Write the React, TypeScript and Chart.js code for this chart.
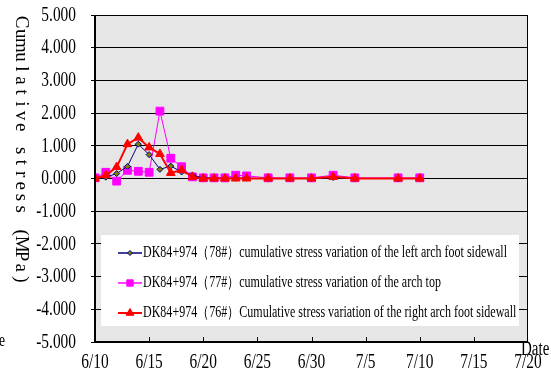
import React, { useEffect, useRef } from "react";
import { Chart, registerables } from "chart.js";
Chart.register(...registerables);

const dates = ["6/10", "6/11", "6/12", "6/13", "6/14", "6/15", "6/16", "6/17", "6/18", "6/19", "6/20", "6/21", "6/22", "6/23", "6/24", "6/26", "6/28", "6/30", "7/2", "7/4", "7/8", "7/10"];
const leftFoot = [0, 0.04, 0.15, 0.37, 1.05, 0.73, 0.28, 0.38, 0.2, 0.1, 0.02, 0.01, 0.01, 0.01, 0.01, 0.0, 0.0, 0.0, 0.03, 0.0, 0.0, 0.0];
const archTop = [0.02, 0.19, -0.08, 0.25, 0.22, 0.19, 2.06, 0.62, 0.36, 0.05, 0.02, 0.02, 0.02, 0.1, 0.08, 0.02, 0.02, 0.02, 0.1, 0.02, 0.02, 0.02];
const rightFoot = [0, 0.1, 0.35, 1.05, 1.25, 0.95, 0.75, 0.17, 0.26, 0.05, 0.0, 0.0, 0.0, 0.0, 0.0, 0.0, 0.0, 0.0, 0.05, 0.0, 0.0, 0.0];
const xTickLabels = ["6/10", "6/15", "6/20", "6/25", "6/30", "7/5", "7/10", "7/15", "7/20"];
const yTickValues = [5, 4, 3, 2, 1, 0, -1, -2, -3, -4, -5];
const seriesNames = [
  "DK84+974（78#）cumulative stress variation of the left arch foot sidewall",
  "DK84+974（77#）cumulative stress variation of the arch top",
  "DK84+974（76#）Cumulative stress variation of the right arch foot sidewall",
];
const yTitle = "Cumulative stress（MPa）";
const xTitle = "Date";

const SERIF = "'Liberation Serif', 'Times New Roman', serif";
const NARROW = 0.7;

function toDay(s: string) {
  const [m, d] = s.split("/").map(Number);
  return m === 6 ? d - 10 : d + 20;
}

function narrowText(ctx: CanvasRenderingContext2D, text: string, x: number, y: number, size: number, align: "left" | "right" | "center", sx: number) {
  ctx.save();
  ctx.font = `${size}px ${SERIF}`;
  ctx.textBaseline = "middle";
  ctx.textAlign = align;
  ctx.translate(x, y);
  ctx.scale(sx, 1);
  ctx.fillStyle = "#000";
  ctx.fillText(text, 0, 0);
  ctx.restore();
}

function drawMarker(ctx: CanvasRenderingContext2D, kind: string, x: number, y: number, fill: string, stroke: string, r: number) {
  ctx.beginPath();
  if (kind === "rect") {
    const s = Math.SQRT1_2 * r;
    ctx.rect(x - s, y - s, 2 * s, 2 * s);
  } else if (kind === "triangle") {
    ctx.moveTo(x, y - r);
    ctx.lineTo(x + r * 0.866, y + r * 0.5);
    ctx.lineTo(x - r * 0.866, y + r * 0.5);
    ctx.closePath();
  } else {
    ctx.moveTo(x, y - r);
    ctx.lineTo(x + r, y);
    ctx.lineTo(x, y + r);
    ctx.lineTo(x - r, y);
    ctx.closePath();
  }
  ctx.fillStyle = fill;
  ctx.fill();
  ctx.strokeStyle = stroke;
  ctx.lineWidth = 1;
  ctx.stroke();
}

const decorPlugin = {
  id: "decor",
  beforeDraw(chart: any) {
    const { ctx, chartArea: a } = chart;
    ctx.save();
    ctx.fillStyle = "#fff";
    ctx.fillRect(0, 0, chart.width, chart.height);
    ctx.fillStyle = "#e6e6e6";
    ctx.fillRect(a.left, a.top, a.right - a.left, a.bottom - a.top);
    ctx.restore();
  },
  afterDatasetsDraw(chart: any) {
    const { ctx, chartArea: a } = chart;
    const xs = chart.scales.x;
    const ys = chart.scales.y;
    ctx.save();
    // border
    ctx.strokeStyle = "#000";
    ctx.lineWidth = 1;
    ctx.beginPath();
    ctx.moveTo(a.left, a.top + 0.5);
    ctx.lineTo(a.right, a.top + 0.5);
    ctx.moveTo(a.right - 0.5, a.top);
    ctx.lineTo(a.right - 0.5, a.bottom);
    ctx.stroke();
    ctx.lineWidth = 2;
    ctx.beginPath();
    ctx.moveTo(a.left, a.top);
    ctx.lineTo(a.left, a.bottom);
    ctx.lineTo(a.right, a.bottom);
    ctx.stroke();
    // inner x ticks
    ctx.lineWidth = 1;
    ctx.beginPath();
    for (let i = 1; i < xTickLabels.length - 1; i++) {
      const px = Math.round(xs.getPixelForValue(i * 5)) + 0.5;
      ctx.moveTo(px, a.bottom);
      ctx.lineTo(px, a.bottom - 5);
    }
    ctx.stroke();

    // tick labels (narrow, tall)
    yTickValues.forEach((v) => {
      narrowText(ctx, v.toFixed(3), 76, ys.getPixelForValue(v), 22, "right", NARROW);
    });
    xTickLabels.forEach((t, i) => {
      narrowText(ctx, t, xs.getPixelForValue(i * 5), 362, 22, "center", NARROW);
    });

    // legend box
    const bx = a.left + 6, by = 235, bw = 418, bh = 91;
    ctx.fillStyle = "#fff";
    ctx.fillRect(bx, by, bw, bh);
    const rows = [253, 283, 313];
    const colors = ["#000080", "#ff00ff", "#ff0000"];
    const kinds = ["diamond", "rect", "triangle"];
    const fills = ["#808000", "#ff00ff", "#ff0000"];
    const radii = [2.5, 4.5, 4.5];
    ctx.font = `16px ${SERIF}`;
    const natural = ctx.measureText(seriesNames[0]).width;
    const sx = 364 / natural;
    rows.forEach((ry, i) => {
      ctx.strokeStyle = colors[i];
      ctx.lineWidth = i === 2 ? 2 : 1.5;
      ctx.beginPath();
      ctx.moveTo(118, ry);
      ctx.lineTo(142, ry);
      ctx.stroke();
      drawMarker(ctx, kinds[i], 130, ry, fills[i], i === 0 ? "#000080" : colors[i], radii[i]);
      narrowText(ctx, seriesNames[i], 143, ry, 16, "left", sx);
    });

    // y title, rotated clockwise, half-width / full-width cells
    ctx.fillStyle = "#000";
    ctx.font = `19px ${SERIF}`;
    ctx.save();
    ctx.translate(21, 0);
    ctx.rotate(Math.PI / 2);
    ctx.textAlign = "center";
    ctx.textBaseline = "middle";
    let cell = 0;
    const step = 11.7;
    for (const ch of yTitle) {
      if (ch === "（") {
        ctx.fillText("(", 22 + (cell + 1) * step, 0);
        cell += 2;
      } else if (ch === "）") {
        ctx.fillText(")", 22 + cell * step, 0);
        cell += 2;
      } else {
        ctx.fillText(ch, 22 + cell * step, 0);
        cell += 1;
      }
    }
    ctx.restore();

    // x title and stray fragment at the left edge
    narrowText(ctx, xTitle, 521, 350, 20, "left", 0.75);
    narrowText(ctx, "e", -1, 341, 18, "left", 0.75);
    ctx.restore();
  },
};

export default function App() {
  const ref = useRef<HTMLCanvasElement>(null);
  useEffect(() => {
    document.body.style.margin = "0";
    const days = dates.map(toDay);
    const mk = (vals: number[]) => vals.map((v, i) => ({ x: days[i], y: v }));
    const chart = new Chart(ref.current!, {
      type: "line",
      data: {
        datasets: [
          {
            label: seriesNames[2],
            data: mk(rightFoot),
            borderColor: "#ff0000",
            backgroundColor: "#ff0000",
            borderWidth: 2,
            pointStyle: "triangle",
            pointRadius: 5,
            pointBorderWidth: 1,
            pointBorderColor: "#ff0000",
          },
          {
            label: seriesNames[0],
            data: mk(leftFoot),
            borderColor: "#000080",
            backgroundColor: "#808000",
            borderWidth: 1,
            pointStyle: "rectRot",
            pointRadius: 3,
            pointBorderWidth: 1,
            pointBorderColor: "#000080",
          },
          {
            label: seriesNames[1],
            data: mk(archTop),
            borderColor: "#ff00ff",
            backgroundColor: "#ff00ff",
            borderWidth: 1,
            pointStyle: "rect",
            pointRadius: 5.5,
            pointBorderWidth: 1,
            pointBorderColor: "#ff00ff",
          },
        ],
      },
      options: {
        animation: false,
        responsive: false,
        layout: { padding: { top: 15, right: 23, left: 0, bottom: 0 } },
        plugins: { legend: { display: false }, tooltip: { enabled: false } },
        scales: {
          x: {
            type: "linear",
            min: 0,
            max: 40,
            afterBuildTicks: (s: any) => {
              s.ticks = xTickLabels.map((_, i) => ({ value: i * 5 }));
            },
            ticks: { display: false },
            grid: { display: false, drawTicks: false },
            border: { display: false },
            afterFit: (s: any) => {
              s.height = 37;
            },
          },
          y: {
            min: -5,
            max: 5,
            ticks: { stepSize: 1, display: false },
            grid: { color: "#000", lineWidth: 1, tickLength: 4 },
            border: { display: false },
            afterFit: (s: any) => {
              s.width = 95;
            },
          },
        },
      },
      plugins: [decorPlugin],
    } as any);
    return () => chart.destroy();
  }, []);
  return <canvas ref={ref} width={551} height={379} style={{ display: "block" }} />;
}
